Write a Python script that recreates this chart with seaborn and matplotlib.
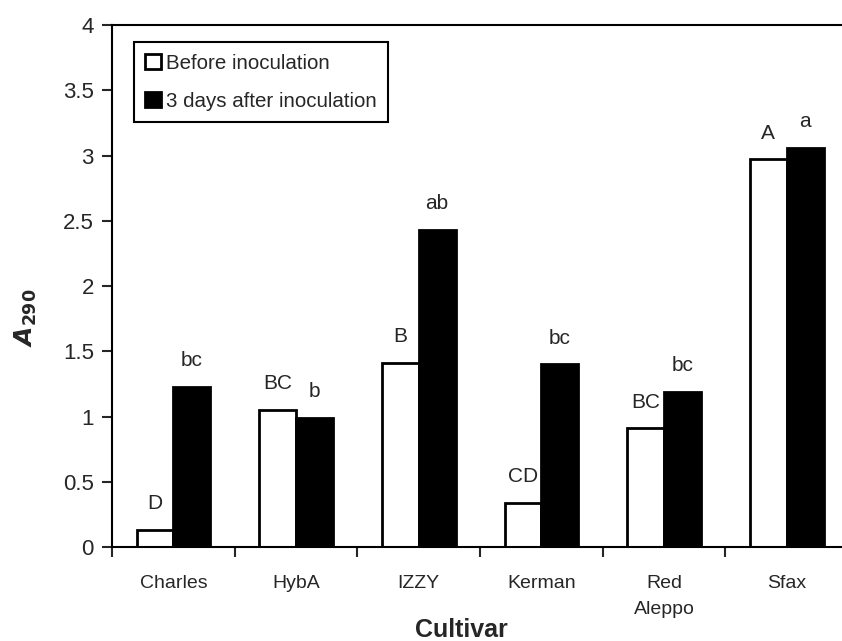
import pandas as pd
import seaborn as sns
import matplotlib.pyplot as plt
from matplotlib.patches import Patch
from matplotlib.ticker import FixedLocator, FuncFormatter

# values
cultivars = ["Charles", "HybA", "IZZY", "Kerman", "Red\nAleppo", "Sfax"]
before = [0.13, 1.05, 1.41, 0.34, 0.91, 2.97]
after = [1.23, 0.99, 2.43, 1.40, 1.19, 3.06]
before_letters = ["D", "BC", "B", "CD", "BC", "A"]
after_letters = ["bc", "b", "ab", "bc", "bc", "a"]
groups = ["Before inoculation", "3 days after inoculation"]

data = pd.DataFrame({
    "cultivar": cultivars * 2,
    "value": before + after,
    "group": [groups[0]] * len(cultivars) + [groups[1]] * len(cultivars),
})

sns.set_style("ticks")
plt.rcParams["font.family"] = ["Liberation Sans", "DejaVu Sans"]

fig = plt.figure(figsize=(8.42, 6.41), dpi=100)
ax = fig.add_axes([0.1330, 0.1466, 0.8670, 0.8144])

sns.barplot(data=data, x="cultivar", y="value", hue="group",
            palette=["white", "black"], edgecolor="black", linewidth=2,
            width=0.6, legend=False, ax=ax)

# significance letters above bars
for cont, letters in zip(ax.containers, [before_letters, after_letters]):
    for bar, lab in zip(cont, letters):
        ax.annotate(lab, (bar.get_x() + bar.get_width() / 2, bar.get_height()),
                    xytext=(0, 12), textcoords="offset points",
                    ha="center", va="bottom", fontsize=15)

ax.set_ylim(0, 4)
ax.set_xlim(-0.5, 5.45)
ax.set_yticks([0, 0.5, 1, 1.5, 2, 2.5, 3, 3.5, 4])
ax.yaxis.set_major_formatter(FuncFormatter(lambda v, p: "%g" % v))
ax.tick_params(axis="y", labelsize=16, length=7, width=1.5, pad=6)
ax.tick_params(axis="x", which="major", length=0, labelsize=14, pad=20)
ax.xaxis.set_minor_locator(FixedLocator([-0.5, 0.5, 1.5, 2.5, 3.5, 4.5, 5.5]))
ax.tick_params(axis="x", which="minor", length=7, width=1.5)
for t in ax.get_xticklabels():
    t.set_linespacing(1.7)

for side in ["left", "bottom", "top"]:
    ax.spines[side].set_linewidth(1.5)
    ax.spines[side].set_color("black")
ax.spines["right"].set_visible(False)

ax.set_xlabel("Cultivar", fontsize=18, fontweight="bold")
ax.xaxis.set_label_coords(0.479, -0.135)
ax.set_ylabel(r"$\mathbfit{A}_{\mathbf{290}}$", fontsize=18)
ax.yaxis.set_label_coords(-0.1, 0.44)

handles = [Patch(facecolor="white", edgecolor="black", linewidth=2),
           Patch(facecolor="black", edgecolor="black", linewidth=2)]
leg = ax.legend(handles, groups, loc="upper left", bbox_to_anchor=(0.03, 0.967),
                borderaxespad=0, fontsize=14.8, handlelength=0.75, handleheight=0.75,
                handletextpad=0.25, labelspacing=0.95, borderpad=0.55,
                fancybox=False, framealpha=1)
leg.get_frame().set_edgecolor("black")
leg.get_frame().set_linewidth(1.5)

fig.savefig("out.png", dpi=100)
